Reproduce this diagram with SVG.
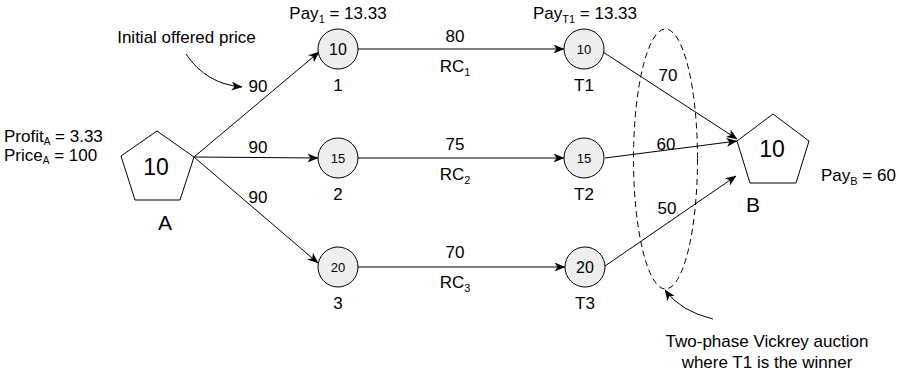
<svg xmlns="http://www.w3.org/2000/svg" width="901" height="374" viewBox="0 0 901 374">
  <style>
    text { font-family: "Liberation Sans", Arial, sans-serif; fill: #000; }
    .lbl { font-size: 17px; }
    .mid { text-anchor: middle; }
    .sub { font-size: 11px; }
    .node { fill: #eeeeee; stroke: #000; stroke-width: 1; }
    .poly { fill: #fff; stroke: #000; stroke-width: 1; }
    .edge { fill: none; stroke: #000; stroke-width: 1; marker-end: url(#arrow); }
    .big { font-size: 23px; }
    .in-lg { font-size: 16px; }
    .in-sm { font-size: 13px; }
  </style>
  <defs>
    <marker id="arrow" markerUnits="userSpaceOnUse" viewBox="0 0 11 9" refX="10.5" refY="4.5" markerWidth="11" markerHeight="9" orient="auto">
      <path d="M0,0 L11,4.5 L0,9 L3,4.5 z" fill="#000"/>
    </marker>
  </defs>
  <rect width="901" height="374" fill="#fff"/>

  <!-- connectors -->
  <g id="connectors">
    <path class="edge" d="M194,157 L319,52"/>
    <path class="edge" d="M194,157 L318,158"/>
    <path class="edge" d="M194,157 L318,263"/>
    <path class="edge" d="M358,49 L564,49"/>
    <path class="edge" d="M358,158 L564,158"/>
    <path class="edge" d="M358,267 L565,267"/>
    <path class="edge" d="M603,52 L737,139"/>
    <path class="edge" d="M605,158 L737,141"/>
    <path class="edge" d="M605,266 L736,176"/>
    <!-- callout arrows -->
    <path class="edge" d="M186,54 Q206,84 242,87"/>
    <path class="edge" d="M713,319 Q680,311 665,290"/>
  </g>

  <!-- auction group outline -->
  <ellipse cx="665.5" cy="159" rx="32" ry="130" fill="none" stroke="#000" stroke-width="1" stroke-dasharray="6 4"/>

  <!-- edge labels -->
  <g id="edge-labels" class="lbl">
    <text class="mid" x="258" y="92">90</text>
    <text class="mid" x="258" y="153">90</text>
    <text class="mid" x="258" y="203">90</text>
    <text class="mid" x="455" y="42">80</text>
    <text class="mid" x="455" y="72">RC<tspan class="sub" dy="4">1</tspan></text>
    <text class="mid" x="455" y="150">75</text>
    <text class="mid" x="455" y="180">RC<tspan class="sub" dy="4">2</tspan></text>
    <text class="mid" x="455" y="258">70</text>
    <text class="mid" x="455" y="288">RC<tspan class="sub" dy="4">3</tspan></text>
    <text class="mid" x="668" y="81">70</text>
    <text class="mid" x="666" y="150">60</text>
    <text class="mid" x="667" y="214">50</text>
  </g>

  <!-- node A -->
  <g id="node-A">
    <polygon class="poly" points="157,131 194,157 180,200 135,200 121,156"/>
    <text class="mid big" x="156" y="175">10</text>
    <text class="mid" x="165" y="230" font-size="21">A</text>
    <text class="lbl" x="4" y="142">Profit<tspan font-size="10" dy="3">A</tspan><tspan dy="-3"> = 3.33</tspan></text>
    <text class="lbl" x="4" y="161">Price<tspan font-size="10" dy="3">A</tspan><tspan dy="-3"> = 100</tspan></text>
  </g>

  <!-- node 1 -->
  <g id="node-1">
    <circle class="node" cx="338" cy="49" r="20"/>
    <text class="mid in-lg" x="338" y="55">10</text>
    <text class="mid lbl" x="338" y="91">1</text>
    <text class="mid lbl" x="338" y="19">Pay<tspan class="sub" dy="4">1</tspan><tspan dy="-4"> = 13.33</tspan></text>
  </g>

  <!-- node 2 -->
  <g id="node-2">
    <circle class="node" cx="338" cy="158" r="20"/>
    <text class="mid in-sm" x="338" y="163">15</text>
    <text class="mid lbl" x="338" y="200">2</text>
  </g>

  <!-- node 3 -->
  <g id="node-3">
    <circle class="node" cx="338" cy="267" r="20"/>
    <text class="mid in-sm" x="338" y="272">20</text>
    <text class="mid lbl" x="338" y="309">3</text>
  </g>

  <!-- node T1 -->
  <g id="node-T1">
    <circle class="node" cx="584" cy="49" r="20"/>
    <text class="mid in-sm" x="584" y="54">10</text>
    <text class="mid lbl" x="584" y="91">T1</text>
    <text class="mid lbl" x="585" y="19">Pay<tspan class="sub" dy="4">T1</tspan><tspan dy="-4"> = 13.33</tspan></text>
  </g>

  <!-- node T2 -->
  <g id="node-T2">
    <circle class="node" cx="584" cy="158" r="20"/>
    <text class="mid in-sm" x="584" y="163">15</text>
    <text class="mid lbl" x="584" y="200">T2</text>
  </g>

  <!-- node T3 -->
  <g id="node-T3">
    <circle class="node" cx="585" cy="267" r="20"/>
    <text class="mid in-lg" x="585" y="273">20</text>
    <text class="mid lbl" x="585" y="309">T3</text>
  </g>

  <!-- node B -->
  <g id="node-B">
    <polygon class="poly" points="773,114 809,141 796,183 750,183 737,141"/>
    <text class="mid big" x="772" y="157">10</text>
    <text class="mid" x="753" y="212" font-size="21">B</text>
    <text class="lbl" x="821" y="181">Pay<tspan class="sub" dy="4">B</tspan><tspan dy="-4"> = 60</tspan></text>
  </g>

  <!-- annotations -->
  <g id="notes" class="lbl">
    <text class="mid" x="186.5" y="43">Initial offered price</text>
    <text class="mid" x="767" y="347">Two-phase Vickrey auction</text>
    <text class="mid" x="767" y="368">where T1 is the winner</text>
  </g>
</svg>
